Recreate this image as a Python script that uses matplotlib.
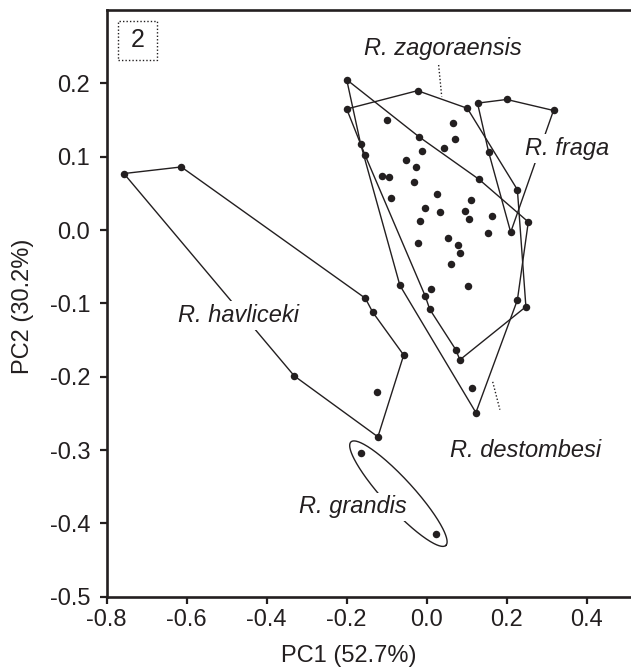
"""
PCA scatter of Rhenops species with convex hulls (PC1 vs PC2).
"""
import numpy as np
import matplotlib
matplotlib.use('Agg')
import matplotlib.pyplot as plt
from matplotlib.patches import Rectangle

plt.rcParams['font.family'] = ['Liberation Sans', 'DejaVu Sans']
plt.rcParams['axes.unicode_minus'] = False

INK = '#231f20'

# R. havliceki (hull order first, last point is interior)
hav_pc1 = [-0.757, -0.6135, -0.1535, -0.135, -0.0575, -0.122, -0.331, -0.125]
hav_pc2 = [0.077, 0.086, -0.093, -0.112, -0.1705, -0.282, -0.199, -0.2205]
hav_hull = [0, 1, 2, 3, 4, 5, 6]

# R. grandis
gra_pc1 = [-0.164, 0.0225]
gra_pc2 = [-0.304, -0.415]

# R. destombesi hull vertices
des_pc1 = [-0.2, -0.019, 0.131, 0.254, 0.2267, 0.123, -0.067, -0.165]
des_pc2 = [0.205, 0.127, 0.069, 0.011, -0.0955, -0.249, -0.0755, 0.117]

# R. zagoraensis hull vertices
zag_pc1 = [-0.2, -0.023, 0.1015, 0.2267, 0.248, 0.083, 0.0725, 0.0075, -0.0033, -0.154]
zag_pc2 = [0.165, 0.190, 0.166, 0.055, -0.1046, -0.177, -0.163, -0.108, -0.0905, 0.102]

# R. fraga hull vertices
fra_pc1 = [0.127, 0.2, 0.317, 0.21, 0.155]
fra_pc2 = [0.173, 0.178, 0.163, -0.003, 0.106]

# remaining specimens inside the overlapping hulls
mix_pc1 = [-0.1, 0.0667, 0.070, 0.043, -0.0125, -0.052, -0.027, -0.1125, -0.0935,
           -0.032, -0.089, 0.0267, 0.110, -0.0033, 0.033, 0.095, 0.105, 0.164,
           -0.0175, 0.153, -0.022, 0.053, 0.079, 0.084, 0.061, 0.0117, 0.104, 0.113]
mix_pc2 = [0.150, 0.146, 0.124, 0.112, 0.108, 0.0955, 0.0864, 0.074, 0.0728,
           0.0655, 0.0437, 0.049, 0.041, 0.0305, 0.024, 0.0255, 0.0146, 0.019,
           0.0123, -0.004, -0.0177, -0.0114, -0.021, -0.031, -0.046, -0.0805, -0.0764, -0.2155]

x_ticks = [-0.8, -0.6, -0.4, -0.2, 0.0, 0.2, 0.4]
y_ticks = [-0.5, -0.4, -0.3, -0.2, -0.1, 0.0, 0.1, 0.2]

FS = 17

fig = plt.figure(figsize=(6.31, 6.71), dpi=100)
ax = fig.add_axes([106.7 / 631, 74.3 / 671, 533.3 / 631, 586.7 / 671])
ax.set_xlim(-0.8, -0.8 + 533.3 / 400)
ax.set_ylim(-0.5, 0.3)


def draw_hull(xs, ys, order=None):
    if order is None:
        order = list(range(len(xs)))
    hx = [xs[i] for i in order] + [xs[order[0]]]
    hy = [ys[i] for i in order] + [ys[order[0]]]
    ax.plot(hx, hy, '-', color=INK, lw=1.0, zorder=2)


draw_hull(hav_pc1, hav_pc2, hav_hull)
draw_hull(des_pc1, des_pc2)
draw_hull(zag_pc1, zag_pc2)
draw_hull(fra_pc1, fra_pc2)

for xs, ys in [(hav_pc1, hav_pc2), (gra_pc1, gra_pc2), (des_pc1, des_pc2),
               (zag_pc1, zag_pc2), (fra_pc1, fra_pc2), (mix_pc1, mix_pc2)]:
    ax.plot(xs, ys, 'o', color=INK, ms=5.4, mec='none', zorder=4)

# ellipse around R. grandis, built in display space
pts = ax.transData.transform(np.column_stack([gra_pc1, gra_pc2]))
c = pts.mean(axis=0)
d = pts[1] - pts[0]
length = np.hypot(d[0], d[1])
u = d / length
v = np.array([-u[1], u[0]])
t = np.linspace(0, 2 * np.pi, 300)
ell = c + np.outer(np.cos(t) * (length / 2 + 15), u) + np.outer(np.sin(t) * 15, v)
ell = ax.transData.inverted().transform(ell)
ax.plot(ell[:, 0], ell[:, 1], '-', color=INK, lw=1.0, zorder=2)

# species labels
box = dict(facecolor='white', edgecolor='none', pad=2)
lab = dict(fontsize=FS, style='italic', color=INK, va='baseline', bbox=box, zorder=3)
ax.text(0.0415, 0.2387, 'R. zagoraensis', ha='center', **lab)
ax.text(0.2458, 0.1023, 'R. fraga', ha='left', **lab)
ax.text(-0.4717, -0.125, 'R. havliceki', ha='center', **lab)
ax.text(0.0583, -0.3093, 'R. destombesi', ha='left', **lab)
ax.text(-0.1835, -0.3865, 'R. grandis', ha='center', **lab)

# dotted leaders
ax.plot([0.029, 0.0375], [0.2297, 0.182], color=INK, lw=1.0, ls=(0, (1, 1.5)), zorder=2)
ax.plot([0.165, 0.183], [-0.207, -0.245], color=INK, lw=1.0, ls=(0, (1, 1.5)), zorder=2)

# axes styling
ax.spines['right'].set_visible(False)
for s in ['left', 'bottom', 'top']:
    ax.spines[s].set_linewidth(1.9)
    ax.spines[s].set_color(INK)
ax.set_xticks(x_ticks)
ax.set_yticks(y_ticks)
ax.set_xticklabels([f'{v:.1f}' for v in x_ticks])
ax.set_yticklabels([f'{v:.1f}' for v in y_ticks])
ax.tick_params(direction='out', length=4.8, width=1.6, color=INK,
               labelsize=FS, labelcolor=INK, top=False, right=False)
ax.tick_params(axis='y', pad=7)
ax.tick_params(axis='x', pad=4)

fig.text(349 / 631, (671 - 662) / 671, 'PC1 (52.7%)', ha='center', va='baseline',
         fontsize=FS, color=INK)
fig.text(22.5 / 631, (671 - 306.5) / 671, 'PC2 (30.2%)', ha='center', va='center',
         rotation=90, fontsize=FS, color=INK)

# panel number in dotted box
fig.patches.append(Rectangle((118.3 / 631, 1 - 60 / 671), 39 / 631, 39.3 / 671,
                             transform=fig.transFigure, fill=False, ec=INK,
                             lw=1.0, ls=(0, (1, 1.5))))
fig.text(137.8 / 631, 1 - 40.3 / 671, '2', ha='center', va='center',
         fontsize=18, color=INK)

fig.savefig('out.png', dpi=100)
